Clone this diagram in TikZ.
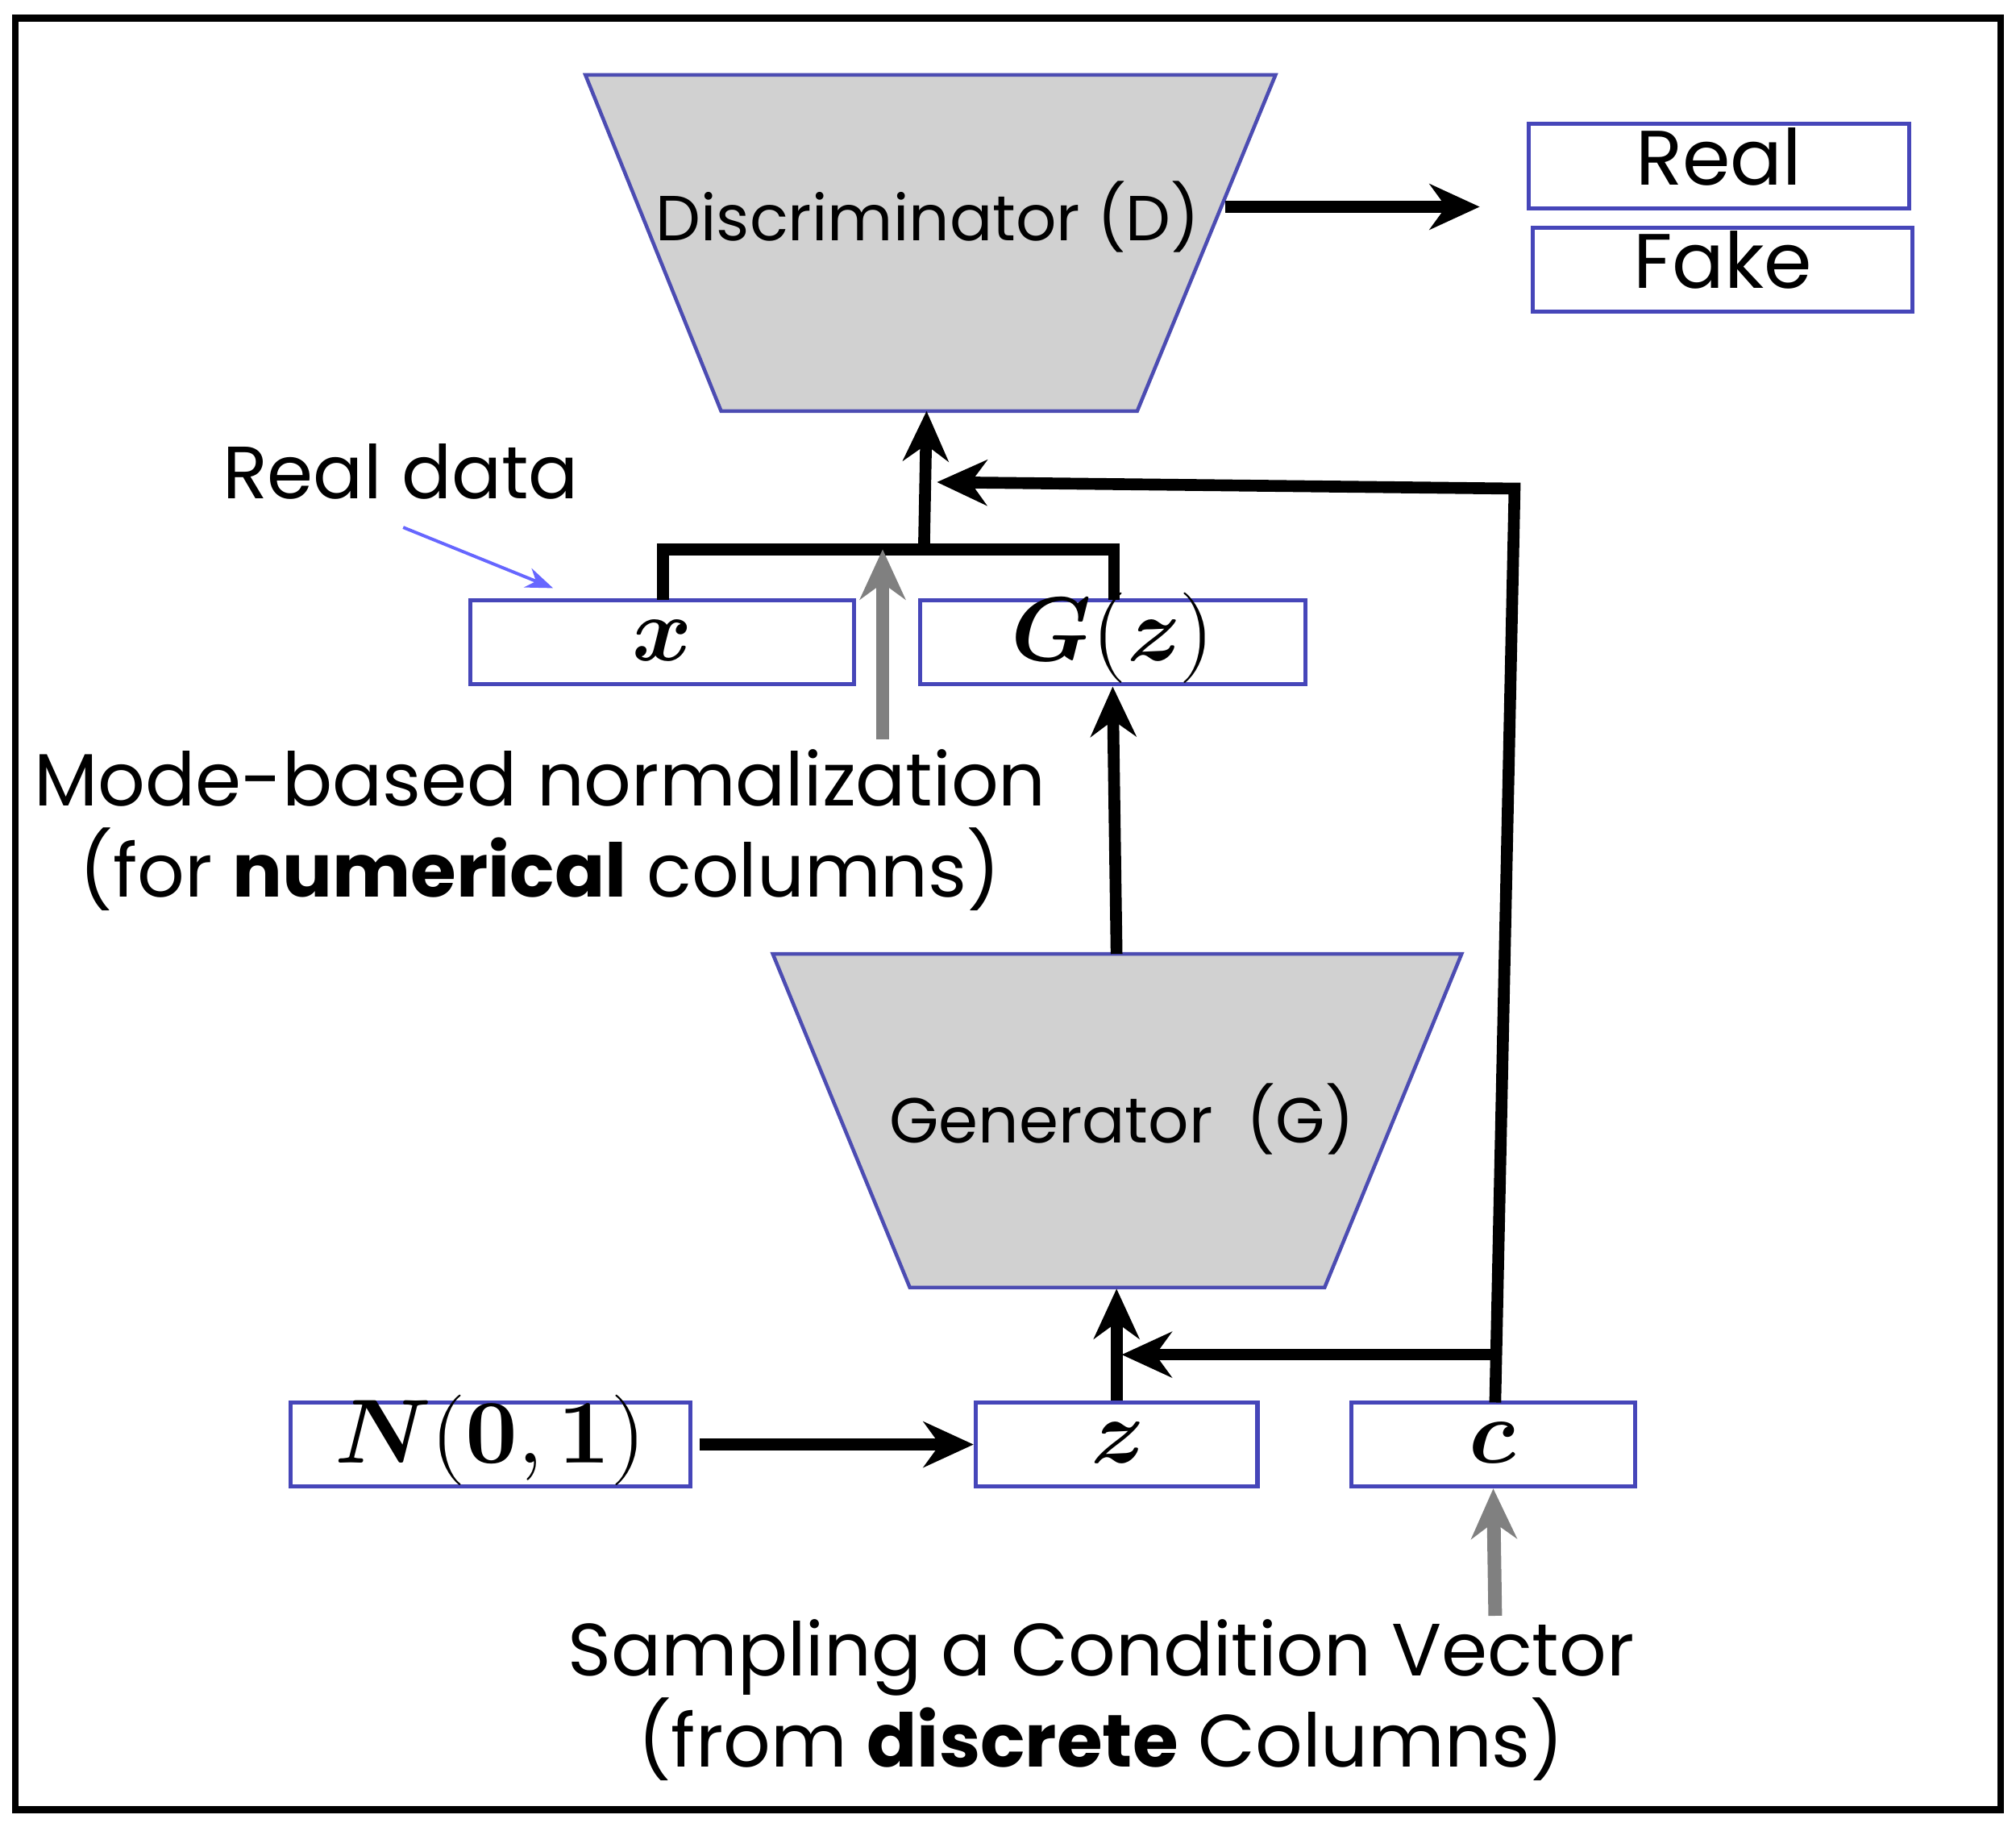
\documentclass[tikz,border=0pt]{standalone}
\usepackage{fontspec}
\setmainfont{Poppins}
\usepackage{amsmath}
\usepackage{unicode-math}
\setmathfont{Latin Modern Math}
\usetikzlibrary{arrows.meta}
\begin{document}
\begin{tikzpicture}[x=0.01cm,y=-0.01cm,
  box/.style={draw=blue!45!gray,line width=0.9pt,inner sep=0pt,minimum height=0.65cm,text height=0.38cm,text depth=0.1cm,font=\fontsize{20}{22}\selectfont},
  tbox/.style={draw=blue!45!gray,line width=0.9pt,inner sep=0pt,minimum height=0.65cm,text height=0.31cm,text depth=0.02cm,font=\fontsize{17}{20}\selectfont},
  trap/.style={draw=blue!40!gray,fill=black!18,line width=0.8pt},
  conn/.style={line width=2.6pt,-{Stealth[length=11pt,width=10pt]}},
  garr/.style={gray,line width=3pt,-{Stealth[length=11pt,width=10pt]}},
  lbl/.style={font=\fontsize{16.3}{20}\selectfont,align=center}]
\useasboundingbox (0,0) rectangle (1560,1410);
\draw[line width=1.5pt] (12,14) rectangle (1548,1400);
% discriminator
\draw[trap] (453,58) -- (987,58) -- (880,318) -- (558,318) -- cycle;
\node[font=\fontsize{14}{17}\selectfont] (D) at (718,168) {Discriminator (D)};
\coordinate (Dout) at (948,160);
\coordinate (Din) at (717,318);
\node[tbox,minimum width=2.94cm] (real) at (1330,128.5) {Real};
\node[tbox,minimum width=2.94cm] (fake) at (1333,208.5) {Fake};
\coordinate (fin) at (1145,160);
\draw[conn] (Dout) -- (fin);
% generator
\draw[trap] (598,738) -- (1131,738) -- (1025,996) -- (704,996) -- cycle;
\node[font=\fontsize{14}{17}\selectfont] (G) at (868,866) {Generator\ \ (G)};
\coordinate (Gtop) at (864,738);
\coordinate (Gbot) at (864,997);
% boxes
\node[box,minimum width=2.97cm] (x) at (512.5,497) {$\symbfit{x}$};
\node[box,minimum width=2.98cm] (gz) at (861,497) {$\symbfit{G}(\symbfit{z})$};
\node[box,minimum width=3.09cm] (N) at (379.5,1117.5) {$\symbfit{N}(\symbf{0},\symbf{1})$};
\node[box,minimum width=2.18cm] (z) at (864,1117.5) {$\symbfit{z}$};
\node[box,minimum width=2.19cm] (c) at (1155.5,1117.5) {$\symbfit{c}$};
% connectors top
\coordinate (xt) at (513,464);
\coordinate (gzt) at (862,464);
\coordinate (jl) at (513,425);
\coordinate (jr) at (862,425);
\coordinate (jm) at (715,425);
\draw[line width=2.6pt] (xt) -- (jl) -- (jr) -- (gzt);
\draw[conn] (jm) -- (Din);
\coordinate (cu) at (1172,378);
\coordinate (cin) at (725,373);
\coordinate (ct) at (1157,1085);
\coordinate (cm) at (1157,1048);
\draw[conn] (ct) -- (cu) -- (cin);
\coordinate (gs) at (683,572);
\coordinate (ge) at (683,425);
\draw[garr] (gs) -- (ge);
\draw[conn] (Gtop) -- (gz.south);
\draw[conn] (z.north) -- (Gbot);
\coordinate (ci) at (868,1048);
\draw[conn] (cm) -- (ci);
\draw[conn] (N.east) ++(6,0) coordinate (ns) -- (z.west);
\coordinate (s1) at (1157,1250);
\draw[garr] (s1) -- (c.south);
% labels
\node[lbl] (rd) at (310,365) {Real data};
\coordinate (rda) at (312,408);
\coordinate (rdb) at (428,455);
\draw[blue!60!white,line width=0.7pt,-{Stealth[length=6pt]}] (rda) -- (rdb);
\node[lbl] (mode) at (418,642) {Mode-based normalization\\(for \textbf{numerical} columns)};
\node[lbl] (samp) at (852,1315) {Sampling a Condition Vector\\(from \textbf{discrete} Columns)};
\end{tikzpicture}
\end{document}
